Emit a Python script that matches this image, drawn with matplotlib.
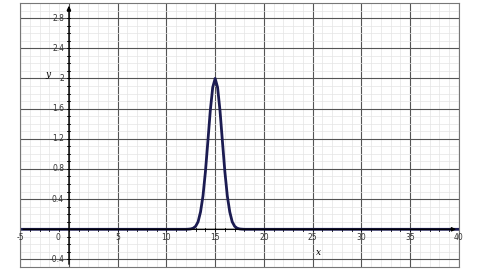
import numpy as np
import matplotlib.pyplot as plt
from matplotlib.ticker import MultipleLocator

# curve points (peak near x=15)
x_vals = [-5, 11.5, 12.0, 12.25, 12.5, 12.75, 13.0, 13.25, 13.5, 13.75, 14.0, 14.25,
          14.5, 14.75, 15.0, 15.25, 15.5, 15.75, 16.0, 16.25, 16.5, 16.75, 17.0,
          17.25, 17.5, 17.75, 18.0, 18.5, 40]
y_vals = [0, 0, 0.0, 0.002, 0.005, 0.015, 0.04, 0.10, 0.23, 0.44, 0.76, 1.16,
          1.57, 1.88, 2.0, 1.88, 1.57, 1.16, 0.76, 0.44, 0.23, 0.10, 0.04,
          0.015, 0.005, 0.002, 0.0, 0, 0]

x_ticks = [-5, 5, 10, 15, 20, 25, 30, 35, 40]
y_ticks = [-0.4, 0.4, 0.8, 1.2, 1.6, 2, 2.4, 2.8]

fig = plt.figure(figsize=(4.8, 2.7), dpi=100)
ax = fig.add_axes([0.042, 0.011, 0.914, 0.978])
ax.set_xlim(-5, 40)
ax.set_ylim(-0.5, 3.0)

# grid
ax.xaxis.set_major_locator(MultipleLocator(5))
ax.xaxis.set_minor_locator(MultipleLocator(1))
ax.yaxis.set_major_locator(MultipleLocator(0.4))
ax.yaxis.set_minor_locator(MultipleLocator(0.1))
ax.grid(which="major", color="#555555", lw=0.8)
ax.grid(which="minor", color="#e4e4e4", lw=0.5)
ax.tick_params(which="both", length=0, labelbottom=False, labelleft=False)
for s in ax.spines.values():
    s.set_color("#777777")
    s.set_linewidth(0.8)

# axes through the origin with arrows
ax.annotate("", xy=(0, 3.0), xytext=(0, -0.5),
            arrowprops=dict(arrowstyle="-|>", color="black", lw=0.9, mutation_scale=6))
ax.annotate("", xy=(40, 0), xytext=(-5, 0),
            arrowprops=dict(arrowstyle="-|>", color="black", lw=0.9, mutation_scale=6))

# small ticks on the y axis
for yt in np.arange(-0.4, 2.95, 0.1):
    ax.plot([-0.15, 0.15], [yt, yt], color="black", lw=0.6)
for xt in np.arange(-5, 40, 1):
    ax.plot([xt, xt], [-0.02, 0.02], color="black", lw=0.6)

# the curve
ax.plot(x_vals, y_vals, color="#1c1c52", lw=2.0)

# tick labels
for xt in x_ticks:
    ax.text(xt, -0.11, str(xt), ha="center", va="center", fontsize=5.5, color="#333333")
for yt in y_ticks:
    ax.text(-0.5, yt, str(yt), ha="right", va="center", fontsize=5.5, color="#333333")
ax.text(-0.9, -0.11, "0", ha="right", va="center", fontsize=5.5, color="#333333")

ax.text(-2.2, 2.05, "y", fontsize=6.5, style="italic", family="serif", ha="center", va="center")
ax.text(25.6, -0.31, "x", fontsize=6.5, style="italic", family="serif", ha="center", va="center")

fig.savefig("out.png", dpi=100)
